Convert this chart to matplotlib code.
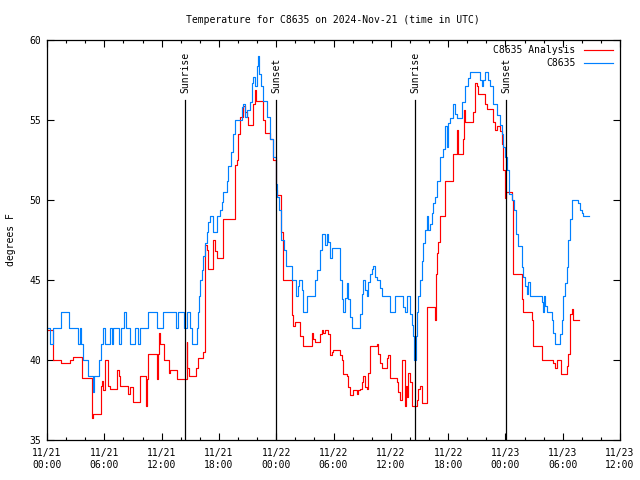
import matplotlib
matplotlib.use("Agg")
import matplotlib.pyplot as plt
from matplotlib.ticker import MultipleLocator

# hours since 11/21 00:00 UTC
obs_hours = [0.00, 0.31, 0.66, 1.43, 2.30, 3.21, 3.42, 3.53, 3.80, 4.33, 4.78, 4.96, 5.45, 5.66,
             5.86, 6.07, 6.60, 6.77, 6.95, 7.57, 7.75, 8.06, 8.27, 8.69, 9.21, 9.56, 9.74, 10.61,
             11.48, 12.18, 13.51, 13.68, 14.30, 14.62, 15.00, 15.15, 15.72, 15.85, 15.95, 16.02,
             16.19, 16.37, 16.54, 16.72, 16.89, 17.07, 17.42, 17.77, 18.12, 18.29, 18.46, 18.81,
             18.99, 19.30, 19.51, 19.69, 20.39, 20.56, 20.73, 20.91, 21.26, 21.43, 21.61, 21.78,
             21.96, 22.13, 22.23, 22.37, 22.65, 23.00, 23.35, 23.70, 23.98, 24.10, 24.30, 24.55,
             24.80, 25.05, 25.70, 26.07, 26.30, 26.42, 26.66, 26.84, 27.19, 28.06, 28.24, 28.59,
             28.76, 29.11, 29.28, 29.46, 29.63, 29.81, 30.68, 30.86, 31.03, 31.21, 31.38, 31.56,
             31.73, 31.90, 32.78, 32.95, 33.13, 33.30, 33.48, 33.65, 33.83, 34.00, 34.17, 34.35,
             34.52, 34.87, 35.05, 35.92, 36.44, 37.32, 37.49, 37.67, 38.02, 38.19, 38.36, 38.45,
             38.64, 38.71, 38.88, 39.06, 39.23, 39.41, 39.58, 39.76, 39.93, 40.10, 40.28, 40.45,
             40.63, 40.80, 41.15, 41.50, 41.68, 41.85, 42.03, 42.20, 42.55, 42.72, 42.90, 43.42,
             43.77, 44.12, 44.29, 45.34, 45.52, 45.69, 45.87, 46.22, 46.39, 46.74, 47.09, 47.44,
             47.61, 47.79, 47.96, 48.14, 48.40, 48.65, 48.90, 49.11, 49.35, 49.70, 49.88, 50.05,
             50.23, 50.40, 50.58, 51.80, 51.90, 52.04, 52.15, 52.32, 52.85, 53.02, 53.19, 53.72,
             53.89, 54.07, 54.24, 54.42, 54.59, 54.77, 54.94, 55.64, 55.81, 55.99, 56.16, 56.72]
obs_temp = [42, 41, 42, 43, 42, 41, 42, 41, 40, 39, 38, 39, 40, 41,
            42, 41, 42, 41, 42, 41, 42, 43, 42, 41, 42, 41, 42, 43,
            42, 43, 42, 43, 42, 43, 42, 41, 42, 43, 44, 45,
            45.6, 46.5, 47.3, 48, 48.6, 49, 48, 49, 49.4, 49.9, 50.5, 51.2,
            52.1, 53.0, 54.1, 55, 55.8, 56, 55.2, 55.6, 56.1, 57.3, 57.7, 57.1,
            58.4, 59.0, 57.9, 57.1, 56.2, 55.2, 53.8, 52.7, 51.0, 50.2, 49.4, 47.5,
            46.9, 45.9, 45.0, 44.0, 44.6, 45.0, 44.4, 43.0, 44.0, 45.0, 45.6, 46.9,
            47.9, 47.2, 47.9, 47.4, 46.4, 47.0, 45.0, 43.8, 43.0, 43.9, 44.8, 43.8,
            42.7, 42.0, 42.9, 44.1, 45.0, 44.4, 44.0, 44.9, 45.4, 45.7, 45.9, 45.2,
            45.0, 44.5, 44.0, 43.0, 44.0, 43.3, 43.0, 44.0, 42.9, 42.2, 41.5, 40.0,
            41.5, 43.0, 44.0, 45.0, 46.2, 47.3, 48.1, 49.0, 48.1, 48.5, 49.2, 49.8,
            50.2, 51.2, 52.7, 53.2, 54.6, 53.3, 54.8, 55.1, 56.0, 55.4, 55.1, 56.1,
            57.1, 57.6, 58.0, 57.5, 57.1, 57.5, 58.0, 57.5, 57.1, 56.0, 55.3, 54.7,
            54.1, 53.3, 52.7, 51.9, 50.4, 50.0, 49.4, 47.9, 47.1, 45.8, 45.2, 44.6,
            44.1, 44.9, 44.0, 43.6, 43.0, 44.0, 43.4, 43.0, 42.5, 41.7, 41.0, 41.6,
            42.5, 44.0, 44.8, 45.8, 47.5, 48.8, 50.0, 49.8, 49.4, 49.2, 49.0, 49.0]

ana_hours = [0.00, 0.58, 1.43, 2.41, 2.76, 3.63, 4.68, 4.86, 5.62, 5.73, 5.83, 6.07, 6.43, 6.60,
             7.30, 7.50, 7.64, 8.52, 8.69, 8.97, 9.74, 10.40, 10.52, 10.61, 11.55, 11.62, 11.69,
             11.86, 12.20, 12.73, 12.90, 13.65, 14.62, 14.70, 14.87, 15.60, 15.85, 16.30, 16.55,
             16.77, 16.89, 17.42, 17.59, 17.77, 18.40, 19.69, 19.86, 20.04, 20.21, 20.56, 20.73,
             20.91, 21.08, 21.61, 21.78, 21.92, 22.65, 22.83, 23.35, 23.70, 23.98, 24.12, 24.50,
             24.72, 25.62, 25.80, 25.97, 26.49, 26.84, 27.72, 27.90, 28.06, 28.59, 28.76, 28.94,
             29.11, 29.46, 29.63, 29.81, 29.98, 30.68, 30.86, 31.03, 31.38, 31.56, 31.73, 32.08,
             32.43, 32.60, 32.78, 32.95, 33.13, 33.30, 33.48, 33.65, 33.83, 34.52, 34.70, 34.87,
             35.05, 35.57, 35.75, 35.92, 36.60, 36.79, 36.96, 37.14, 37.49, 37.62, 37.70, 37.84,
             38.02, 38.19, 38.71, 38.88, 39.06, 39.23, 39.80, 40.63, 40.73, 40.87, 40.98, 41.15,
             41.68, 42.55, 42.90, 43.07, 43.60, 43.70, 43.77, 44.64, 44.82, 44.99, 45.17, 45.87,
             46.04, 46.74, 46.92, 47.09, 47.44, 47.61, 47.79, 47.96, 48.07, 48.70, 48.84, 49.70,
             49.88, 50.75, 50.85, 50.93, 51.80, 53.02, 53.19, 53.37, 53.79, 54.42, 54.59, 54.77,
             54.94, 55.12, 55.74]
ana_temp = [41.9, 40.0, 39.8, 40.0, 40.2, 38.9, 36.4, 36.6, 38.4, 38.7, 38.1, 40.0, 38.4, 38.2,
            39.4, 39.0, 38.4, 37.9, 38.3, 37.4, 39.0, 37.1, 38.8, 40.4, 38.8, 40.4, 41.7,
            41.0, 40.0, 39.2, 39.4, 38.8, 41.1, 39.5, 39.0, 39.5, 40.1, 40.5, 47.2,
            46.9, 45.7, 47.5, 46.8, 46.4, 48.8, 52.2, 52.5, 54.1, 55.2, 55.9, 55.5,
            55.2, 54.7, 56.0, 56.9, 56.2, 55.0, 54.2, 53.8, 52.5, 50.6, 50.3, 48.0,
            45.0, 42.8, 42.1, 42.4, 41.5, 40.9, 41.7, 41.3, 41.1, 41.6, 41.9, 41.7,
            41.9, 41.6, 40.3, 40.5, 40.6, 40.3, 40.0, 39.1, 39.0, 38.3, 37.8, 38.1,
            37.9, 38.1, 38.2, 38.6, 39.0, 38.3, 38.2, 39.2, 40.9, 41.0, 40.4, 39.8,
            39.5, 40.1, 40.3, 38.9, 38.6, 38.0, 37.5, 40.0, 37.1, 38.4, 37.7, 39.2,
            38.6, 37.1, 37.5, 38.2, 38.4, 37.3, 43.3, 42.5, 45.4, 46.7, 47.4, 49.0,
            51.2, 52.9, 54.4, 52.9, 53.8, 55.6, 54.9, 55.5, 57.3, 57.1, 56.6, 56.0,
            55.7, 54.9, 54.4, 54.6, 54.3, 53.5, 51.9, 50.1, 50.5, 50.0, 45.4, 43.8,
            43.0, 42.5, 41.5, 40.9, 40.0, 39.8, 39.5, 40.0, 39.1, 39.6, 40.4, 42.9,
            43.2, 42.5, 42.5]

sun_hours = [14.45, 24.0, 38.53, 48.06]
sun_labels = ["Sunrise", "Sunset", "Sunrise", "Sunset"]

tick_labels = ["11/21\n00:00", "11/21\n06:00", "11/21\n12:00", "11/21\n18:00",
               "11/22\n00:00", "11/22\n06:00", "11/22\n12:00", "11/22\n18:00",
               "11/23\n00:00", "11/23\n06:00", "11/23\n12:00"]

plt.rcParams['font.family'] = ['DejaVu Sans Mono']
plt.rcParams['font.size'] = 7

fig = plt.figure(figsize=(6.4, 4.8), dpi=100)
ax = fig.add_axes([47 / 640, 40 / 480, 573 / 640, 400 / 480])

ax.plot(ana_hours, ana_temp, color='#ff0000', lw=0.85, drawstyle='steps-post')
ax.plot(obs_hours, obs_temp, color='#0080ff', lw=0.85, drawstyle='steps-post')

for h, lab in zip(sun_hours, sun_labels):
    ax.plot([h, h], [35, 56.25], color='black', lw=0.9)
    ax.text(h, 56.7, lab, rotation=90, ha='center', va='bottom', fontsize=7)

ax.set_xlim(0, 60)
ax.set_ylim(35, 60)
ax.set_xticks(range(0, 61, 6))
ax.set_xticklabels(tick_labels)
ax.xaxis.set_minor_locator(MultipleLocator(2))
ax.set_yticks(range(35, 61, 5))
ax.tick_params(which='both', direction='in', top=True, right=True, width=0.8)
ax.tick_params(which='major', length=5, pad=4)
ax.tick_params(which='minor', length=2.5)
ax.tick_params(axis='x', which='major', pad=6)
for s in ax.spines.values():
    s.set_linewidth(0.9)

ax.set_ylabel("degrees F", labelpad=10)
fig.text(333 / 640, 1 - 20 / 480, "Temperature for C8635 on 2024-Nov-21 (time in UTC)",
         ha='center', va='center', fontsize=7)

# legend in gnuplot style: right aligned text, sample line to the right
ax.text(0.922, 0.975, "C8635 Analysis", transform=ax.transAxes, ha='right', va='center')
ax.plot([0.937, 0.988], [0.975, 0.975], transform=ax.transAxes, color='#ff0000', lw=0.85)
ax.text(0.922, 0.942, "C8635", transform=ax.transAxes, ha='right', va='center')
ax.plot([0.937, 0.988], [0.942, 0.942], transform=ax.transAxes, color='#0080ff', lw=0.85)

fig.savefig("out.png", dpi=100)
